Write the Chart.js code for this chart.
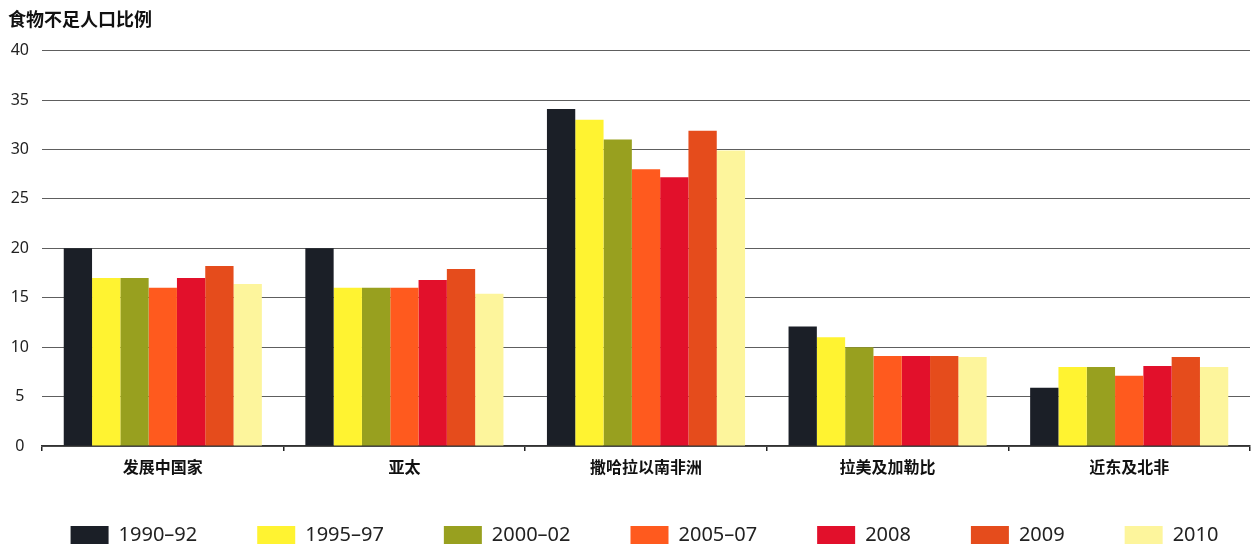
<!DOCTYPE html>
<html>
<head>
<meta charset="utf-8">
<script src="https://cdn.jsdelivr.net/npm/chart.js@4"></script>
<style>
html,body{margin:0;padding:0;background:#fff;}
#wrap{width:1256px;height:546px;position:relative;}
</style>
</head>
<body>
<div id="wrap"><canvas id="c" width="1256" height="546"></canvas></div>
<script>
const categories = ['发展中国家', '亚太', '撒哈拉以南非洲', '拉美及加勒比', '近东及北非'];
const seriesNames = ['1990–92', '1995–97', '2000–02', '2005–07', '2008', '2009', '2010'];
const s1990_92 = [20.0, 20.0, 34.1, 12.1, 5.9];
const s1995_97 = [17.0, 16.0, 33.0, 11.0, 8.0];
const s2000_02 = [17.0, 16.0, 31.0, 10.0, 8.0];
const s2005_07 = [16.0, 16.0, 28.0, 9.1, 7.1];
const s2008    = [17.0, 16.8, 27.2, 9.1, 8.1];
const s2009    = [18.2, 17.9, 31.9, 9.1, 9.0];
const s2010    = [16.4, 15.4, 29.9, 9.0, 8.0];
const yTicks = [0, 5, 10, 15, 20, 25, 30, 35, 40];
const colors = ['#1b1f27', '#fff331', '#98a01f', '#ff5a1e', '#e2102b', '#e54c1c', '#fdf59c'];

const seriesValues = [s1990_92, s1995_97, s2000_02, s2005_07, s2008, s2009, s2010];
const FONT = "'Noto Sans', 'Noto Sans CJK SC', sans-serif";

// widen the legend row spacing after layout (the fit step would otherwise wrap it)
const legendShift = {
  id: 'legendShift',
  afterLayout(chart) {
    const L = chart.legend;
    if (!L) return;
    const p = 60;
    try { L.options.labels.padding = p; } catch (e) {}
    const usedP = L.options.labels.padding;
    const sum = L.legendHitBoxes.reduce((a, b) => a + b.width, 0);
    L.lineWidths = [sum + L.legendHitBoxes.length * usedP];
    const h = L.bottom - L.top;
    L.top = 525 - usedP;
    L.bottom = L.top + h;
    L.left = -31;
    L.right = 1320;
    L.width = L.right - L.left;
  }
};

new Chart(document.getElementById('c'), {
  type: 'bar',
  data: {
    labels: categories,
    datasets: seriesNames.map((n, i) => ({
      label: n,
      data: seriesValues[i],
      backgroundColor: colors[i],
      borderWidth: 0,
      categoryPercentage: 0.82,
      barPercentage: 1.0
    }))
  },
  plugins: [legendShift],
  options: {
    responsive: false,
    animation: false,
    layout: { padding: { left: 8, right: 6, top: 10, bottom: -21 } },
    plugins: {
      title: {
        display: true,
        text: '食物不足人口比例',
        align: 'start',
        color: '#111',
        font: { family: FONT, size: 18, weight: 'bold' },
        padding: { top: 0, bottom: 19 }
      },
      legend: {
        position: 'bottom',
        labels: {
          boxWidth: 38,
          boxHeight: 18,
          padding: 56,
          color: '#222',
          font: { family: FONT, size: 20 }
        }
      },
      tooltip: { enabled: false }
    },
    scales: {
      x: {
        afterFit: (s) => { s.height = 35; },
        grid: {
          display: true,
          drawOnChartArea: false,
          drawTicks: true,
          tickLength: 5,
          color: '#222',
          lineWidth: 1.5,
          offset: true
        },
        border: { display: true, color: '#333', width: 1.5 },
        ticks: {
          color: '#111',
          padding: 8,
          font: { family: FONT, size: 16, weight: 'bold' }
        }
      },
      y: {
        min: 0,
        max: 40,
        afterFit: (s) => { s.width = 34; },
        afterBuildTicks: (s) => { s.ticks = yTicks.map(v => ({ value: v })); },
        grid: { color: '#5e5e5e', lineWidth: 1, drawTicks: false },
        border: { display: false },
        ticks: {
          crossAlign: 'center',
          padding: 13,
          color: '#222',
          font: { family: FONT, size: 16 }
        }
      }
    }
  }
});
</script>
</body>
</html>
